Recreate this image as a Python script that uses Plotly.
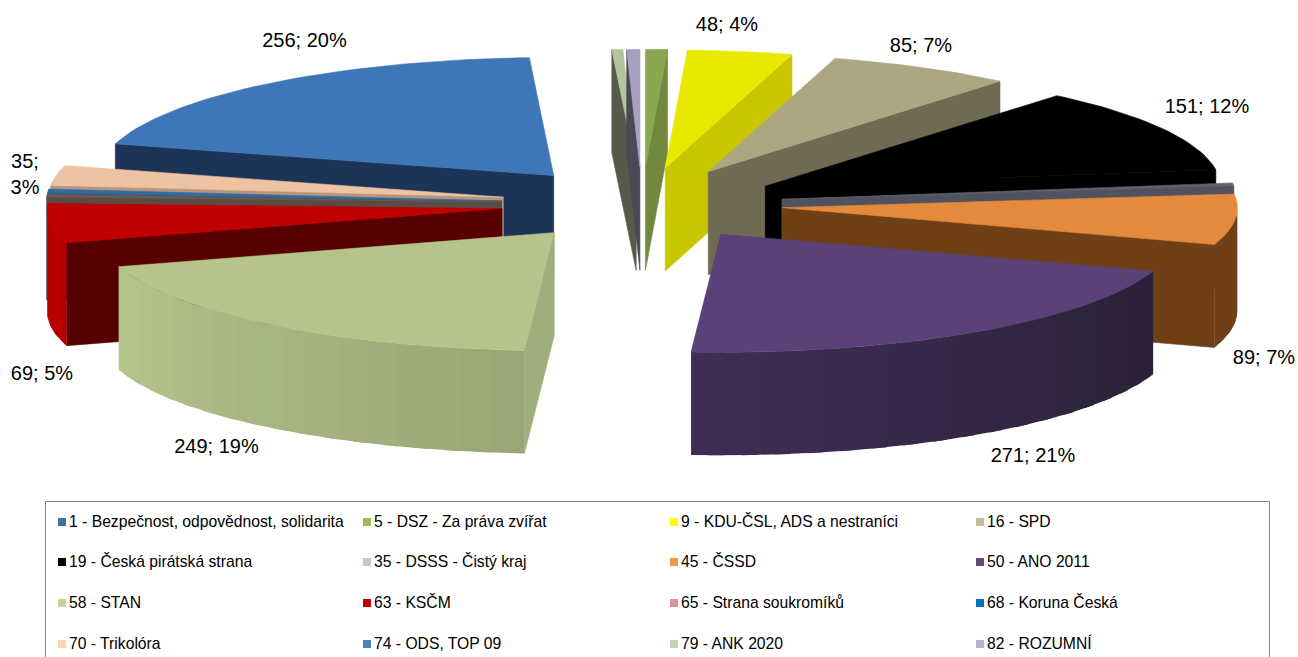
import math
import plotly.graph_objects as go

parties = ["1 - Bezpečnost, odpovědnost, solidarita", "5 - DSZ - Za práva zvířat", "9 - KDU-ČSL, ADS a nestraníci", "16 - SPD",
           "19 - Česká pirátská strana", "35 - DSSS - Čistý kraj", "45 - ČSSD", "50 - ANO 2011",
           "58 - STAN", "63 - KSČM", "65 - Strana soukromíků", "68 - Koruna Česká",
           "70 - Trikolóra", "74 - ODS, TOP 09", "79 - ANK 2020", "82 - ROZUMNÍ"]
votes = [0, 10, 48, 85, 151, 5, 89, 271, 249, 69, 5, 7, 35, 256, 5, 6]
value_labels = ["", "", "48; 4%", "85; 7%", "151; 12%", "", "89; 7%", "271; 21%",
                "249; 19%", "69; 5%", "", "", "35;<br>3%", "256; 20%", "", ""]
legend_colors = ["#44709d", "#9bbb59", "#ffff00", "#c4bd97", "#000000", "#ccc1da", "#f79646", "#5f497a",
                 "#c3d69b", "#c00000", "#d99694", "#0070c0", "#fcd5b5", "#4f81bd", "#c3d6a9", "#b9afcf"]
top_colors = ["#3f6797", "#8aa650", "#e9e900", "#aca781", "#000000", "#60636f", "#e58a3c", "#5a4178",
              "#b5c48b", "#c00000", "#6a5a52", "#2f6ca3", "#eec3a2", "#3f76b8", "#b4c49e", "#a79fc0"]
side_near = ["#2b4a6e", "#73883f", "#c9c600", "#6f6b53", "#000000", "#50535f", "#6f4016", "#3f2e55",
             "#b5c58c", "#b80000", "#5a4c45", "#234f78", "#c9a385", "#1e3a5f", "#5c6050", "#55505f"]
side_far = ["#2b4a6e", "#73883f", "#c9c600", "#6f6b53", "#000000", "#50535f", "#6f4016", "#2a2036",
            "#98a675", "#b80000", "#5a4c45", "#234f78", "#c9a385", "#1e3a5f", "#5c6050", "#55505f"]
cut_colors = ["#2b4a6e", "#73883f", "#c9c600", "#6f6b53", "#000000", "#50535f", "#6f4016", "#3a2a4f",
              "#a0ae7d", "#560000", "#5a4c45", "#234f78", "#b8957a", "#1c3557", "#565a49", "#4c4856"]
draw_order = [14, 15, 0, 1, 2, 3, 13, 4, 5, 6, 12, 11, 10, 9, 7, 8]

label_anchor_x = [0, 0, 727, 921, 1207, 0, 1264, 1033, 216.5, 42, 0, 0, 25, 304.5, 0, 0]
label_anchor_y = [0, 0, 26, 47, 108, 0, 359, 457, 448, 375, 0, 0, 176, 42, 0, 0]

legend_col_swatch = [62, 367, 674, 980]
legend_col_text = [69, 374, 681, 987]
legend_row_y = [522, 562, 603, 644]
legend_text_y = [523, 563, 604, 645]

CX, CY = 642, 204
RX, RY = 455, 118
EXPLODE = 0.31
H = 103


def mix(a, b, t):
    ca = [int(a[i:i + 2], 16) for i in (1, 3, 5)]
    cb = [int(b[i:i + 2], 16) for i in (1, 3, 5)]
    return "#%02x%02x%02x" % tuple(round(p + (q - p) * t) for p, q in zip(ca, cb))


def ell(ax, ay, deg):
    r = math.radians(deg)
    return ax + RX * math.sin(r), ay - RY * math.cos(r)


def poly(xs, ys, color, width=0.6):
    return go.Scatter(x=xs, y=ys, mode="lines", fill="toself", fillcolor=color,
                      line=dict(color=color, width=width), hoverinfo="skip", showlegend=False)


total = sum(votes)
bounds = []
acc = 0.0
for v in votes:
    bounds.append((acc / total * 360, (acc + v) / total * 360))
    acc += v

fig = go.Figure()
for i in draw_order:
    a, b = bounds[i]
    if b <= a:
        continue
    mid = math.radians((a + b) / 2)
    ax = CX + EXPLODE * RX * math.sin(mid)
    ay = CY - EXPLODE * RY * math.cos(mid)
    # radial cut faces that turn towards the viewer
    for edge, normal in ((a, a - 90), (b, b + 90)):
        if math.cos(math.radians(normal)) < 0:
            ex, ey = ell(ax, ay, edge)
            fig.add_trace(poly([ax, ex, ex, ax, ax], [ay, ey, ey + H, ay + H, ay], cut_colors[i]))
    # outer rim, front half only: strips painted over each other so no seams show
    lo, hi = max(a, 90), min(b, 270)
    if hi > lo:
        n = max(1, int((hi - lo) / 4))
        for k in range(n):
            d0 = lo + (hi - lo) * k / n
            d1 = hi if k == n - 1 else d0 + (hi - lo) / n + 2.0
            d1 = min(d1, hi)
            steps = [d0 + (d1 - d0) * s / 6 for s in range(7)]
            pts = [ell(ax, ay, d) for d in steps]
            xs = [p[0] for p in pts] + [p[0] for p in reversed(pts)] + [pts[0][0]]
            ys = [p[1] for p in pts] + [p[1] + H for p in reversed(pts)] + [pts[0][1]]
            t = 1 - (k + 0.5) / n
            fig.add_trace(poly(xs, ys, mix(side_near[i], side_far[i], t), width=0))
    # top face
    m = max(2, int((b - a) / 1.5))
    pts = [ell(ax, ay, a + (b - a) * s / m) for s in range(m + 1)]
    fig.add_trace(poly([ax] + [p[0] for p in pts] + [ax], [ay] + [p[1] for p in pts] + [ay], top_colors[i]))

# value labels
lab_idx = [i for i, t in enumerate(value_labels) if t]
fig.add_trace(go.Scatter(x=[label_anchor_x[i] for i in lab_idx], y=[label_anchor_y[i] for i in lab_idx],
                         text=[value_labels[i] for i in lab_idx], mode="text", textposition="middle center",
                         textfont=dict(family="Liberation Sans", size=20, color="#000000"),
                         hoverinfo="skip", showlegend=False))

# legend block
lx, ly, lc, ltx, lty = [], [], [], [], []
for i, name in enumerate(parties):
    col, row = i % 4, i // 4
    lx.append(legend_col_swatch[col])
    ly.append(legend_row_y[row])
    lc.append(legend_colors[i])
    ltx.append(legend_col_text[col])
    lty.append(legend_text_y[row])
fig.add_trace(go.Scatter(x=lx, y=ly, mode="markers",
                         marker=dict(symbol="square", size=8, color=lc, line=dict(width=0)),
                         hoverinfo="skip", showlegend=False))
fig.add_trace(go.Scatter(x=ltx, y=lty, text=parties, mode="text", textposition="middle right",
                         textfont=dict(family="Liberation Sans", size=15.7, color="#000000"),
                         hoverinfo="skip", showlegend=False))

fig.update_layout(
    width=1298, height=657, margin=dict(l=0, r=0, t=0, b=0),
    paper_bgcolor="#ffffff", plot_bgcolor="#ffffff",
    xaxis=dict(range=[0, 1298], visible=False, fixedrange=True),
    yaxis=dict(range=[657, 0], visible=False, fixedrange=True),
    shapes=[dict(type="rect", xref="x", yref="y", x0=45.5, x1=1269.5, y0=501.5, y1=670,
                 line=dict(color="#868686", width=1), layer="below")],
)
fig.write_html("out.html", config={"displayModeBar": False}, post_script="document.body.style.margin='0';")
